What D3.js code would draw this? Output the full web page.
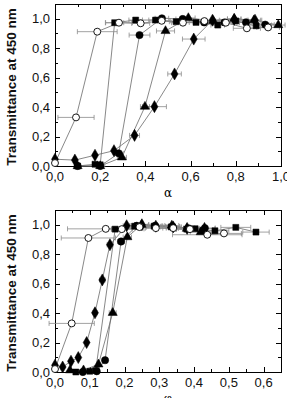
<!DOCTYPE html>
<html>
<head>
<meta charset="utf-8">
<script src="https://cdn.jsdelivr.net/npm/d3@7"></script>
<style>
html, body { margin:0; padding:0; background:#fff; overflow:hidden; }
svg { display:block; }
</style>
</head>
<body>
<div id="chart"></div>
<script>
// ---- top panel (x = alpha) ----
var topOpenX = [0.0, 0.093, 0.187, 0.283, 0.379, 0.472, 0.566, 0.661, 0.756, 0.849, 0.943];
var topOpenY = [0.02, 0.33, 0.912, 0.973, 0.969, 0.986, 0.973, 0.984, 0.973, 0.935, 0.941];
var topOpenErr = [0, 0.08, 0.088, 0.06, 0.04, 0.04, 0.05, 0.05, 0.06, 0.06, 0.05];

var topSquareX = [0.1, 0.177, 0.2, 0.264, 0.357, 0.445, 0.536, 0.624, 0.72, 0.8, 0.89];
var topSquareY = [0.0, 0.012, 0.008, 0.973, 0.991, 0.991, 0.98, 0.975, 0.957, 0.985, 0.952];
var topSquareErr = [0, 0, 0.02, 0.04, 0.03, 0.03, 0.03, 0.03, 0.03, 0.04, 0.04];

var topCircleX = [0.1, 0.2, 0.282, 0.374, 0.473, 0.565, 0.66, 0.75, 0.845, 0.93];
var topCircleY = [0.0, 0.0, 0.086, 0.889, 1.003, 0.998, 0.975, 0.975, 0.975, 0.96];
var topCircleErr = [0, 0, 0.02, 0.046, 0.03, 0.03, 0.03, 0.03, 0.04, 0.04];

var topTriX = [0.1, 0.2, 0.296, 0.398, 0.489, 0.59, 0.70, 0.793, 0.88, 0.988];
var topTriY = [0.0, 0.0, 0.059, 0.403, 0.917, 1.005, 0.985, 1.0, 0.99, 0.957];
var topTriErr = [0, 0, 0.02, 0.02, 0.04, 0.03, 0.03, 0.03, 0.03, 0.03];

var topDiaX = [0.0, 0.088, 0.177, 0.261, 0.352, 0.44, 0.529, 0.614, 0.697, 0.793, 0.885];
var topDiaY = [0.046, 0.04, 0.073, 0.104, 0.208, 0.403, 0.625, 0.862, 0.99, 0.995, 0.99];
var topDiaErr = [0, 0, 0, 0, 0.022, 0.053, 0.03, 0.05, 0.03, 0.03, 0.03];

// ---- bottom panel ----
var botOpenX = [0.0, 0.048, 0.096, 0.146, 0.192, 0.243, 0.29, 0.34, 0.388, 0.438, 0.486];
var botOpenY = [0.02, 0.33, 0.91, 0.972, 0.97, 0.984, 0.977, 0.977, 0.97, 0.932, 0.941];
var botOpenErr = [0, 0.065, 0.078, 0.11, 0.03, 0.02, 0.03, 0.03, 0.04, 0.1, 0.05];

var botSquareX = [0.06, 0.1, 0.117, 0.173, 0.229, 0.285, 0.334, 0.379, 0.403, 0.46, 0.52, 0.578];
var botSquareY = [0.0, 0.005, 0.01, 0.97, 0.99, 0.99, 0.985, 0.97, 0.973, 0.959, 0.982, 0.95];
var botSquareErr = [0, 0, 0, 0.01, 0.02, 0.02, 0.03, 0.03, 0.03, 0.04, 0.043, 0.038];

var botCircleX = [0.08, 0.12, 0.144, 0.19, 0.235, 0.288, 0.338, 0.385, 0.431];
var botCircleY = [0.0, 0.005, 0.08, 0.886, 0.993, 0.993, 0.988, 0.975, 0.977];
var botCircleErr = [0, 0, 0.005, 0.01, 0.02, 0.02, 0.02, 0.03, 0.03];

var botTriX = [0.043, 0.082, 0.125, 0.166, 0.208, 0.249, 0.336, 0.379, 0.419];
var botTriY = [0.012, 0.012, 0.052, 0.402, 0.916, 1.0, 0.995, 0.973, 0.95];
var botTriErr = [0, 0, 0, 0.01, 0.012, 0.02, 0.02, 0.03, 0.03];

var botDiaX = [0.0, 0.022, 0.046, 0.067, 0.091, 0.115, 0.136, 0.158, 0.206, 0.25, 0.29, 0.34, 0.38, 0.43];
var botDiaY = [0.046, 0.034, 0.073, 0.098, 0.2, 0.402, 0.625, 0.864, 0.993, 1.0, 0.99, 0.985, 0.975, 0.975];
var botDiaErr = [0, 0, 0, 0, 0, 0.006, 0.008, 0.008, 0.01, 0.02, 0.02, 0.02, 0.03, 0.03];

var yTicks = [0, 0.2, 0.4, 0.6, 0.8, 1.0];
var topXTicks = [0, 0.2, 0.4, 0.6, 0.8, 1.0];
var botXTicks = [0, 0.1, 0.2, 0.3, 0.4, 0.5, 0.6];

var yTitle = "Transmittance at 450 nm";
var topXTitle = "\u03b1";
var botXTitle = "\u03c6";

var W = 287, H = 398;
var fmt = function(v){ return d3.format(".1f")(v).replace(".", ","); };

var svg = d3.select("#chart").append("svg")
    .attr("width", W)
    .attr("height", H);

function zipSeries(xs, ys, es){
    return xs.map(function(d, i){ return {x: d, y: ys[i], e: es[i]}; });
}

function drawPanel(p){
    var x = d3.scaleLinear().domain(p.xDomain).range([55, 281]);
    var y = d3.scaleLinear().domain([0, 1.1]).range([p.bottom, p.top]);

    var g = svg.append("g").attr("class", "panel");

    // frame
    g.append("rect")
        .attr("x", 55.5).attr("y", p.top + 0.5)
        .attr("width", 281 - 55).attr("height", p.bottom - p.top)
        .attr("fill", "none").attr("stroke", "#000").attr("stroke-width", 1);

    // ticks inward, mirrored
    var xMinor = d3.range(0, p.xDomain[1] + 1e-9, p.xMinor);
    var yMinor = d3.range(0, 1.1 + 1e-9, 0.1);
    var tk = g.append("g").attr("stroke", "#000").attr("stroke-width", 1);
    xMinor.forEach(function(v, i){
        var len = (i % 2 == 0) ? 5 : 3;
        var px = Math.round(x(v)) + 0.5;
        tk.append("line").attr("x1", px).attr("x2", px).attr("y1", p.bottom).attr("y2", p.bottom - len);
        tk.append("line").attr("x1", px).attr("x2", px).attr("y1", p.top).attr("y2", p.top + len);
    });
    yMinor.forEach(function(v, i){
        var len = (i % 2 == 0) ? 5 : 3;
        var py = Math.round(y(v)) + 0.5;
        tk.append("line").attr("x1", 55).attr("x2", 55 + len).attr("y1", py).attr("y2", py);
        tk.append("line").attr("x1", 281).attr("x2", 281 - len).attr("y1", py).attr("y2", py);
    });

    // tick labels
    g.selectAll(".ylab").data(yTicks).enter().append("text")
        .attr("class", "ylab")
        .attr("x", 50).attr("y", function(d){ return y(d) + 4.5; })
        .attr("text-anchor", "end")
        .style("font-family", "Liberation Sans, Arial, sans-serif")
        .style("font-size", "13px")
        .style("fill", "#111")
        .text(fmt);

    g.selectAll(".xlab").data(p.xTicks).enter().append("text")
        .attr("class", "xlab")
        .attr("x", function(d){ return x(d); }).attr("y", p.bottom + 15)
        .attr("text-anchor", "middle")
        .style("font-family", "Liberation Sans, Arial, sans-serif")
        .style("font-size", "13px")
        .style("fill", "#111")
        .text(fmt);

    // axis titles
    g.append("text")
        .attr("transform", "translate(16," + ((p.top + p.bottom) / 2 + 2) + ") rotate(-90)")
        .attr("text-anchor", "middle")
        .style("font-family", "Liberation Sans, Arial, sans-serif")
        .style("font-size", "13.5px")
        .style("font-weight", "bold")
        .style("fill", "#111")
        .text(yTitle);

    g.append("text")
        .attr("x", 168).attr("y", p.bottom + 31)
        .attr("text-anchor", "middle")
        .style("font-family", "DejaVu Serif, serif")
        .style("font-size", "12px")
        .text(p.xTitle);

    var line = d3.line()
        .x(function(d){ return x(d.x); })
        .y(function(d){ return y(d.y); });

    var plot = g.append("g");

    // connecting lines
    p.series.forEach(function(s){
        plot.append("path")
            .datum(s.data)
            .attr("fill", "none")
            .attr("stroke", "#6a6a6a")
            .attr("stroke-width", 0.8)
            .attr("d", line);
    });

    // horizontal error bars
    p.series.forEach(function(s){
        var eb = plot.append("g").attr("stroke", "#8a8a8a").attr("stroke-width", 0.8);
        s.data.filter(function(d){ return d.e > 0; }).forEach(function(d){
            var x0 = x(d.x - d.e), x1 = x(d.x + d.e), yy = y(d.y);
            eb.append("line").attr("x1", x0).attr("x2", x1).attr("y1", yy).attr("y2", yy);
            eb.append("line").attr("x1", x0).attr("x2", x0).attr("y1", yy - 2.5).attr("y2", yy + 2.5);
            eb.append("line").attr("x1", x1).attr("x2", x1).attr("y1", yy - 2.5).attr("y2", yy + 2.5);
        });
    });

    // markers
    p.series.forEach(function(s){
        plot.selectAll(null).data(s.data).enter().append("path")
            .attr("transform", function(d){ return "translate(" + x(d.x) + "," + y(d.y) + ")"; })
            .attr("d", d3.symbol().type(s.sym).size(s.size))
            .attr("fill", s.open ? "#fff" : "#000")
            .attr("stroke", "#000")
            .attr("stroke-width", s.open ? 0.9 : 0.5);
    });
}

function seriesSet(o, sq, ci, tr, di){
    return [
        {data: sq, sym: d3.symbolSquare, size: 36, open: false},
        {data: ci, sym: d3.symbolCircle, size: 42, open: false},
        {data: tr, sym: d3.symbolTriangle, size: 36, open: false},
        {data: di, sym: d3.symbolDiamond, size: 42, open: false},
        {data: o,  sym: d3.symbolCircle, size: 38, open: true}
    ];
}

drawPanel({
    top: 4, bottom: 166,
    xDomain: [0, 1], xMinor: 0.1, xTicks: topXTicks, xTitle: topXTitle,
    series: seriesSet(
        zipSeries(topOpenX, topOpenY, topOpenErr),
        zipSeries(topSquareX, topSquareY, topSquareErr),
        zipSeries(topCircleX, topCircleY, topCircleErr),
        zipSeries(topTriX, topTriY, topTriErr),
        zipSeries(topDiaX, topDiaY, topDiaErr))
});

drawPanel({
    top: 210, bottom: 372,
    xDomain: [0, 0.65], xMinor: 0.05, xTicks: botXTicks, xTitle: botXTitle,
    series: seriesSet(
        zipSeries(botOpenX, botOpenY, botOpenErr),
        zipSeries(botSquareX, botSquareY, botSquareErr),
        zipSeries(botCircleX, botCircleY, botCircleErr),
        zipSeries(botTriX, botTriY, botTriErr),
        zipSeries(botDiaX, botDiaY, botDiaErr))
});
</script>
</body>
</html>
